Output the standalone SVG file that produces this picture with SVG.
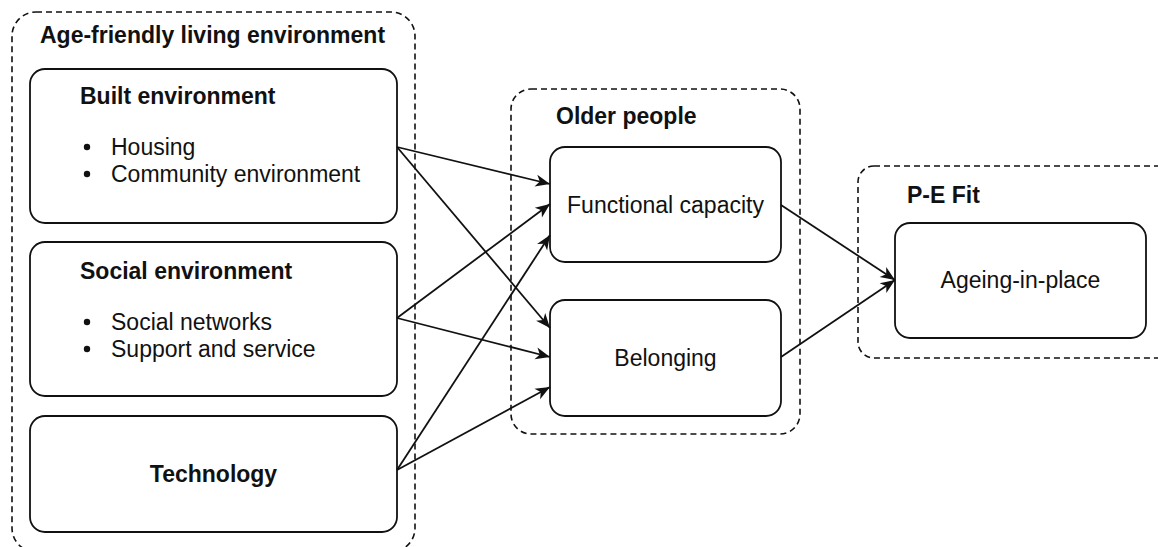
<svg xmlns="http://www.w3.org/2000/svg" width="1158" height="547" viewBox="0 0 1158 547">
  <style>
    .bg { fill: #ffffff; }
    .group { fill: none; stroke: #111; stroke-width: 1.6; stroke-dasharray: 6 4; }
    .box { fill: #ffffff; stroke: #111; stroke-width: 1.8; }
    .title { font-family: "Liberation Sans", Arial, Helvetica, sans-serif; font-size: 23px; font-weight: bold; fill: #111; }
    .label { font-family: "Liberation Sans", Arial, Helvetica, sans-serif; font-size: 23px; fill: #111; }
    .center { text-anchor: middle; }
    .edge { fill: none; stroke: #111; stroke-width: 1.8; marker-end: url(#arrow); }
  </style>
  <defs>
    <marker id="arrow" markerWidth="18" markerHeight="14" refX="15" refY="7" orient="auto" markerUnits="userSpaceOnUse">
      <path d="M0.5,1 L15,7 L0.5,13 L4.5,7 Z" fill="#111"/>
    </marker>
  </defs>

  <rect class="bg" x="0" y="0" width="1158" height="547"/>

  <!-- Group: age-friendly living environment -->
  <g id="age-friendly-living-environment">
    <rect class="group" x="12" y="12" width="403" height="540" rx="24" ry="24"/>
    <text class="title" x="40" y="43">Age-friendly living environment</text>
  </g>

  <g id="built-environment">
    <rect class="box" x="30" y="69" width="367" height="154" rx="15" ry="15"/>
    <text class="title" x="80" y="104">Built environment</text>
    <circle cx="87" cy="147" r="3.2" fill="#111"/>
    <text class="label" x="111" y="155">Housing</text>
    <circle cx="87" cy="174" r="3.2" fill="#111"/>
    <text class="label" x="111" y="182">Community environment</text>
  </g>

  <g id="social-environment">
    <rect class="box" x="30" y="242" width="367" height="154" rx="15" ry="15"/>
    <text class="title" x="80" y="279">Social environment</text>
    <circle cx="87" cy="322" r="3.2" fill="#111"/>
    <text class="label" x="111" y="330">Social networks</text>
    <circle cx="87" cy="349" r="3.2" fill="#111"/>
    <text class="label" x="111" y="357">Support and service</text>
  </g>

  <g id="technology">
    <rect class="box" x="30" y="416" width="367" height="116" rx="15" ry="15"/>
    <text class="title center" x="213.5" y="482">Technology</text>
  </g>

  <!-- Group: older people -->
  <g id="older-people">
    <rect class="group" x="511" y="89" width="289" height="345" rx="20" ry="20"/>
    <text class="title" x="556" y="124">Older people</text>
  </g>

  <g id="functional-capacity">
    <rect class="box" x="550" y="147" width="231" height="115" rx="15" ry="15"/>
    <text class="label center" x="665.5" y="213">Functional capacity</text>
  </g>

  <g id="belonging">
    <rect class="box" x="550" y="300" width="231" height="116" rx="15" ry="15"/>
    <text class="label center" x="665.5" y="366">Belonging</text>
  </g>

  <!-- Group: P-E fit -->
  <g id="pe-fit">
    <rect class="group" x="858" y="166" width="320" height="192" rx="16" ry="16"/>
    <text class="title" x="907" y="203">P-E Fit</text>
  </g>

  <g id="ageing-in-place">
    <rect class="box" x="895" y="223" width="251" height="115" rx="15" ry="15"/>
    <text class="label center" x="1020.5" y="288">Ageing-in-place</text>
  </g>

  <!-- Connectors -->
  <g id="connectors">
    <line class="edge" x1="397" y1="147" x2="550" y2="184"/>
    <line class="edge" x1="397" y1="147" x2="550" y2="328"/>
    <line class="edge" x1="397" y1="318" x2="550" y2="204"/>
    <line class="edge" x1="397" y1="318" x2="550" y2="357"/>
    <line class="edge" x1="397" y1="470" x2="550" y2="235"/>
    <line class="edge" x1="397" y1="470" x2="550" y2="387"/>
    <line class="edge" x1="781" y1="205" x2="895" y2="280"/>
    <line class="edge" x1="781" y1="357" x2="895" y2="280"/>
  </g>
</svg>
